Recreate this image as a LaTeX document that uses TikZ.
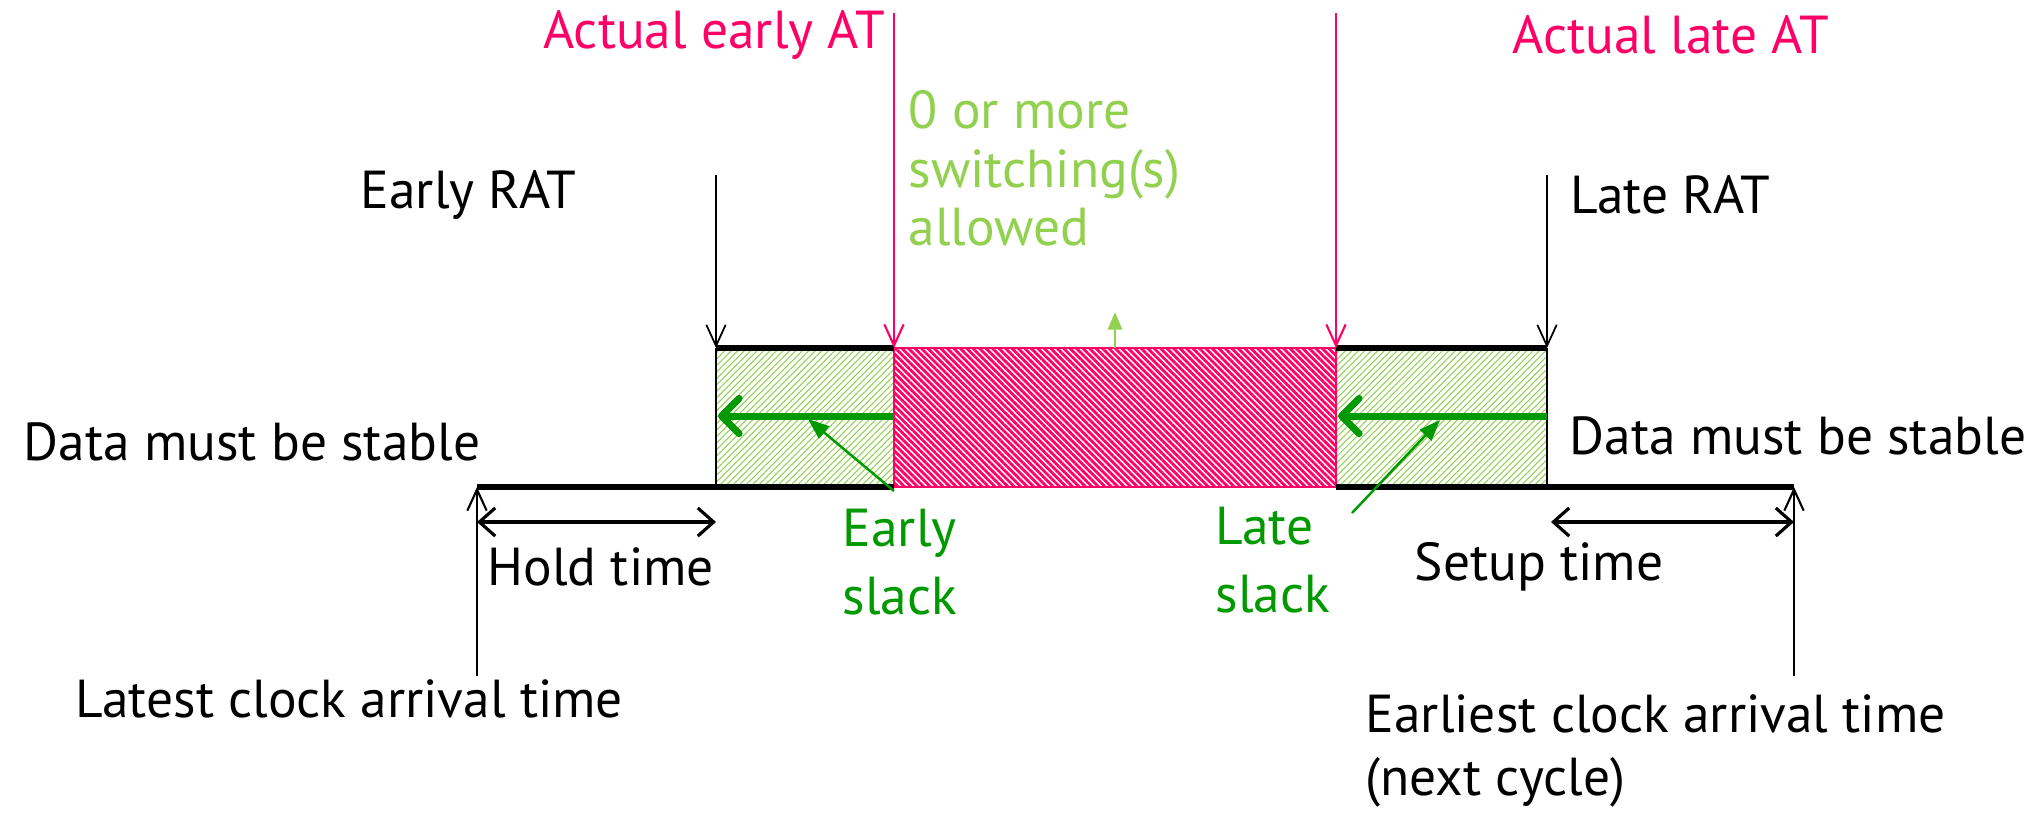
\documentclass[tikz,border=0pt]{standalone}
\usepackage{fontspec}
\setmainfont{PT Sans}
\usetikzlibrary{arrows.meta,patterns.meta}
\definecolor{atpink}{HTML}{FF0066}
\definecolor{okgreen}{HTML}{92D050}
\definecolor{slackgreen}{HTML}{009900}
\tikzset{
  lbl/.style={font=\fontsize{15.2pt}{17pt}\selectfont, inner sep=0pt, align=left},
  vhead/.style={-{Straight Barb[length=6pt,width=5.5pt]}},
  atline/.style={draw=atpink, line width=0.6pt, vhead},
  ratline/.style={draw=black, line width=0.5pt, vhead},
  clkline/.style={draw=black, line width=0.6pt, vhead},
  span/.style={draw=black, line width=0.9pt, {Straight Barb[length=4.5pt,width=8pt]}-{Straight Barb[length=4.5pt,width=8pt]}},
  slackarrow/.style={draw=slackgreen, line width=2pt, -{Straight Barb[length=5pt,width=10pt,round]}},
  pointer/.style={draw=slackgreen, line width=0.7pt, -{Triangle[length=6pt,width=4.5pt]}},
  okhatch/.style={pattern={Lines[angle=45,distance=1.3pt,line width=0.3pt]}, pattern color=okgreen},
  athatch/.style={pattern={Lines[angle=-45,distance=1.3pt,line width=0.8pt]}, pattern color=atpink},
  edge/.style={draw=black, line width=1.5pt},
  side/.style={draw=black, line width=0.8pt},
}
\begin{document}
\begin{tikzpicture}[x=0.01cm, y=-0.01cm]
\useasboundingbox (0,0) rectangle (2038,817);

% time points on the axis
\coordinate (erat)  at (716,348);
\coordinate (eat)   at (894,348);
\coordinate (lat)   at (1336,348);
\coordinate (lrat)  at (1547,348);
\coordinate (erat-b) at (716,487);
\coordinate (eat-b)  at (894,487);
\coordinate (lat-b)  at (1336,487);
\coordinate (lrat-b) at (1547,487);
\coordinate (clk1)  at (477,487);
\coordinate (clk2)  at (1794,487);

% hatched windows
\fill[okhatch] (erat) rectangle (eat-b);
\fill[okhatch] (lat) rectangle (lrat-b);
\filldraw[athatch, draw=atpink, line width=0.7pt] (eat) rectangle (lat-b);

% window outlines and time axis
\draw[side] (erat-b) -- (erat);
\draw[side] (lrat) -- (lrat-b);
\draw[edge] (erat) -- (eat);
\draw[edge] (lat) -- (lrat);
\draw[edge] (clk1) -- (eat-b);
\draw[edge] (lat-b) -- (clk2);

% arrival time markers
\coordinate (eat-top) at (894,13);
\coordinate (lat-top) at (1336,13);
\draw[atline] (eat-top) -- (eat);
\draw[atline] (lat-top) -- (lat);
\node[lbl, text=atpink, anchor=east] (eat-lbl) at (886,35) {Actual early AT};
\node[lbl, text=atpink, anchor=west] (lat-lbl) at (1512,35) {Actual late AT};

% required arrival time markers
\coordinate (erat-top) at (716,175);
\coordinate (lrat-top) at (1547,175);
\draw[ratline] (erat-top) -- (erat);
\draw[ratline] (lrat-top) -- (lrat);
\node[lbl, anchor=west] (erat-lbl) at (360,195) {Early RAT};
\node[lbl, anchor=west] (lrat-lbl) at (1570,195) {Late RAT};

% switching window
\node[lbl, text=okgreen, anchor=north west, font=\fontsize{15.2pt}{16.6pt}\selectfont] (sw-lbl) at (908,90) {0 or more\\switching(s)\\allowed};
\coordinate (sw-tip) at (1115,312);
\coordinate (sw-base) at (1115,348);
\draw[draw=okgreen, line width=0.8pt, -{Triangle[length=5pt,width=4pt]}] (sw-base) -- (sw-tip);

% slack arrows
\coordinate (es-start) at (894,416);
\coordinate (es-end)   at (718,416);
\coordinate (ls-start) at (1547,416);
\coordinate (ls-end)   at (1338,416);
\draw[slackarrow] (es-start) -- (es-end);
\draw[slackarrow] (ls-start) -- (ls-end);

\node[lbl, text=slackgreen, anchor=north west, font=\fontsize{15.2pt}{19.5pt}\selectfont] (es-lbl) at (842,508) {Early\\slack};
\node[lbl, text=slackgreen, anchor=north west, font=\fontsize{15.2pt}{19.5pt}\selectfont] (ls-lbl) at (1215,506) {Late\\slack};
\coordinate (es-from) at (894,491);
\coordinate (es-to)   at (808,419);
\coordinate (ls-from) at (1352,513);
\coordinate (ls-to)   at (1440,420);
\draw[pointer] (es-from) -- (es-to);
\draw[pointer] (ls-from) -- (ls-to);

% stability labels
\node[lbl, anchor=west] (stab-l) at (23,442) {Data must be stable};
\node[lbl, anchor=west] (stab-r) at (1569,436) {Data must be stable};

% clock edges
\coordinate (clk1-foot) at (477,676);
\coordinate (clk2-foot) at (1794,676);
\draw[clkline] (clk1-foot) -- (clk1);
\draw[clkline] (clk2-foot) -- (clk2);
\node[lbl, anchor=west] (clk1-lbl) at (75,699) {Latest clock arrival time};
\node[lbl, anchor=north west, font=\fontsize{15.2pt}{17.8pt}\selectfont] (clk2-lbl) at (1365,694) {Earliest clock arrival time\\(next cycle)};

% hold and setup spans
\coordinate (hold-a) at (477,522);
\coordinate (hold-b) at (716,522);
\coordinate (setup-a) at (1551,522);
\coordinate (setup-b) at (1794,522);
\draw[span] (hold-a) -- (hold-b);
\draw[span] (setup-a) -- (setup-b);
\node[lbl, anchor=west] (hold-lbl) at (487,567) {Hold time};
\node[lbl, anchor=west] (setup-lbl) at (1414,567) {Setup time};
\end{tikzpicture}
\end{document}
